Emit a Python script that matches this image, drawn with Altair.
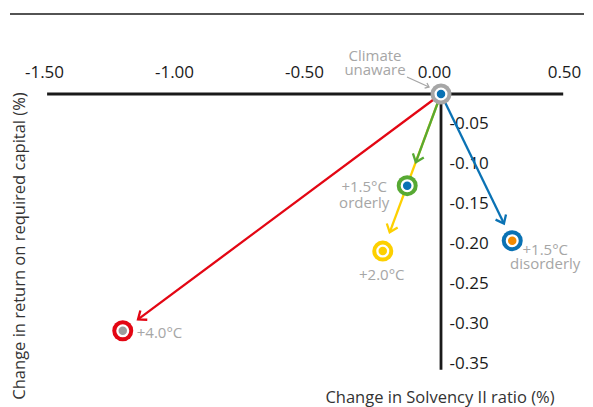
import math
import altair as alt
import pandas as pd

# ---------------- data ----------------
scenario = ["Climate unaware", "+1.5°C orderly", "+2.0°C", "+4.0°C", "+1.5°C disorderly"]
label_text = ["Climate\nunaware", "+1.5°C\norderly", "+2.0°C", "+4.0°C", "+1.5°C\ndisorderly"]
solvency_change = [0.0, -0.130, -0.224, -1.224, 0.274]
return_change = [0.0, -0.115, -0.197, -0.297, -0.184]
ring_color = ["#a6a6a6", "#57a933", "#fdd000", "#e30613", "#0a72b4"]
dot_color = ["#0a72b4", "#0a72b4", "#fdd000", "#9c9c9c", "#f18a00"]
x_tick_values = [-1.5, -1.0, -0.5, 0.0, 0.5]
y_tick_values = [-0.05, -0.10, -0.15, -0.20, -0.25, -0.30, -0.35]
x_title = "Change in Solvency II ratio (%)"
y_title = "Change in return on required capital (%)"
x_axis_extent = [-1.515, 0.47]
y_axis_extent = [-0.346, 0.0]

# ---------------- layout / style ----------------
X_DOMAIN = [-1.55, 0.55]
Y_DOMAIN = [-0.36, 0.0]
W, H = 546, 287
PAD = {"left": 30, "top": 86, "right": 1, "bottom": 26}
KX = W / (X_DOMAIN[1] - X_DOMAIN[0])
KY = H / (Y_DOMAIN[1] - Y_DOMAIN[0])
FONT = "Open Sans"
GREY = "#a6a6a6"
INK = "#1a1a1a"
CHEVRON = "M-1,-0.8L0,0L-1,0.8"

xs = alt.Scale(domain=X_DOMAIN, nice=False, zero=False)
ys = alt.Scale(domain=Y_DOMAIN, nice=False, zero=False)

x0, y0 = solvency_change[0], return_change[0]

x_axis = alt.Axis(
    orient="top", values=x_tick_values, format=".2f",
    labelExpr="replace(datum.label, '\u2212', '-')",
    domain=False, ticks=False, tickSize=0, grid=False,
    labelPadding=13, labelOffset=-7, labelFont=FONT, labelFontSize=17,
    labelColor=INK, title=None,
)
y_axis = alt.Axis(
    orient="right", offset=-(W - (x0 - X_DOMAIN[0]) * KX), values=y_tick_values,
    format=".2f", labelExpr="replace(datum.label, '\u2212', '-')",
    domain=False, ticks=False, tickSize=0, grid=False,
    labelPadding=8, labelOffset=-10, labelFont=FONT, labelFontSize=17,
    labelColor=INK, labelAlign="left", title=None,
)


def X(field):
    return alt.X(field, type="quantitative", scale=xs, axis=x_axis)


def Y(field):
    return alt.Y(field, type="quantitative", scale=ys, axis=y_axis)


pts = pd.DataFrame({
    "scenario": scenario,
    "label": label_text,
    "x": solvency_change,
    "y": return_change,
    "ring": ring_color,
    "dot": dot_color,
})

# arrows from the climate-unaware origin to each scenario
arrow_gap = {1: 25, 2: 20, 3: 19, 4: 19}
arrow_order = [2, 1, 3, 4]
rows = []
for i in arrow_order:
    tx, ty = solvency_change[i], return_change[i]
    dxp = (tx - x0) * KX
    dyp = -(ty - y0) * KY
    L = math.hypot(dxp, dyp)
    f = (L - arrow_gap[i]) / L
    rows.append({
        "x": x0, "y": y0,
        "xt": x0 + (tx - x0) * f, "yt": y0 + (ty - y0) * f,
        "angle": math.degrees(math.atan2(dyp, dxp)) % 360,
        "color": ring_color[i],
    })
arrows = pd.DataFrame(rows)

# small grey pointer from the "Climate unaware" label to the origin
ann_from = (x0 - 34 / KX, y0 + 17 / KY)
ann_to = (x0 - 12 / KX, y0 + 7 / KY)
ann = pd.DataFrame([{
    "x": ann_from[0], "y": ann_from[1], "xt": ann_to[0], "yt": ann_to[1],
    "angle": math.degrees(math.atan2(-(ann_to[1] - ann_from[1]) * KY,
                                     (ann_to[0] - ann_from[0]) * KX)) % 360,
}])

# axis lines
hline = alt.Chart(pd.DataFrame({"xa": [x_axis_extent[0]], "xb": [x_axis_extent[1]], "y": [0.0]})).mark_rule(
    color=INK, strokeWidth=2.8
).encode(x=X("xa"), x2="xb:Q", y=Y("y"))
vline = alt.Chart(pd.DataFrame({"x": [0.0], "ya": [y_axis_extent[0]], "yb": [y_axis_extent[1]]})).mark_rule(
    color=INK, strokeWidth=2.8
).encode(x=X("x"), y=Y("ya"), y2="yb:Q")

# top rule under the (cropped) headline
top_rule = alt.Chart(pd.DataFrame({"k": [0]})).mark_rule(color=INK, strokeWidth=1.6).encode(
    x=alt.value(-28), x2=alt.value(W), y=alt.value(-80)
)

x_title_layer = alt.Chart(pd.DataFrame({"t": [x_title]})).mark_text(
    font=FONT, fontSize=16.5, color="#333333", align="center", baseline="alphabetic"
).encode(x=alt.value(402), y=alt.value(309), text="t:N")
y_title_layer = alt.Chart(pd.DataFrame({"t": [y_title]})).mark_text(
    font=FONT, fontSize=16.5, color="#333333", align="center", baseline="middle", angle=270
).encode(x=alt.value(-18.5), y=alt.value(152), text="t:N")

shafts = alt.Chart(arrows).mark_rule(strokeWidth=2.3).encode(
    x=X("x"), y=Y("y"), x2="xt:Q", y2="yt:Q", color=alt.Color("color:N", scale=None),
)
heads = alt.Chart(arrows).mark_point(
    shape=CHEVRON, filled=False, size=210, strokeWidth=2.3, opacity=1
).encode(
    x=X("xt"), y=Y("yt"),
    angle=alt.Angle("angle:Q", scale=None), color=alt.Color("color:N", scale=None),
)
ann_shaft = alt.Chart(ann).mark_rule(strokeWidth=1.3, color=GREY).encode(
    x=X("x"), y=Y("y"), x2="xt:Q", y2="yt:Q",
)
ann_head = alt.Chart(ann).mark_point(
    shape=CHEVRON, filled=False, size=50, strokeWidth=1.3, opacity=1, color=GREY
).encode(
    x=X("xt"), y=Y("yt"), angle=alt.Angle("angle:Q", scale=None),
)

base = alt.Chart(pts).encode(x=X("x"), y=Y("y"))
ring_outer = base.mark_point(shape="circle", filled=True, size=441, opacity=1).encode(
    color=alt.Color("ring:N", scale=None)
)
ring_inner = base.mark_point(shape="circle", filled=True, size=170, opacity=1, color="white")
ring_dot = base.mark_point(shape="circle", filled=True, size=72, opacity=1).encode(
    color=alt.Color("dot:N", scale=None)
)

label_style = {
    0: dict(align="center", dx=-66, dy=-33, lineHeight=14),
    1: dict(align="center", dx=-43, dy=6, lineHeight=16),
    2: dict(align="center", dx=-1, dy=29, lineHeight=16),
    3: dict(align="left", dx=14, dy=7, lineHeight=16),
    4: dict(align="center", dx=33, dy=14, lineHeight=14),
}
label_layers = []
for i, name in enumerate(scenario):
    st = label_style[i]
    label_layers.append(
        base.transform_filter(alt.datum.scenario == name).mark_text(
            font=FONT, fontSize=15, color=GREY, baseline="alphabetic", lineBreak="\n", **st
        ).encode(text="label:N")
    )

chart = alt.layer(
    hline, vline, top_rule, x_title_layer, y_title_layer,
    shafts, heads, ann_shaft, ann_head,
    ring_outer, ring_inner, ring_dot, *label_layers,
).properties(
    width=W, height=H, padding=PAD,
    autosize=alt.AutoSizeParams(type="none"),
    background="white",
).configure_view(strokeWidth=0)

chart.save("out.html", embed_options={"renderer": "svg", "actions": False})
